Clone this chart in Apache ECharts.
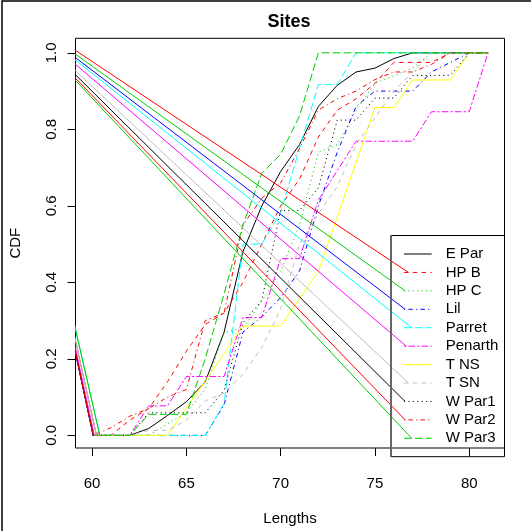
<!DOCTYPE html>
<html><head><meta charset="utf-8">
<script src="https://cdn.jsdelivr.net/npm/echarts@6/dist/echarts.min.js"></script>
<style>html,body{margin:0;padding:0;background:#fff}#c{width:531px;height:531px}</style>
</head><body><div id="c"></div>
<script>
// ---- data ----
const lengths = [60,61,62,63,64,65,66,67,68,69,70,71,72,73,74,75,76,77,78,79,80,81];
const seriesNames = ['E Par','HP B','HP C','Lil','Parret','Penarth','T NS','T SN','W Par1','W Par2','W Par3'];
const ePar    = [0,0,0,0.018,0.052,0.088,0.14,0.27,0.48,0.6,0.69,0.76,0.86,0.915,0.95,0.96,0.985,1,1,1,1,1];
const hpB     = [0,0,0.04,0.07,0.14,0.22,0.29,0.32,0.4,0.5,0.6,0.67,0.78,0.85,0.88,0.92,0.975,0.975,0.975,1,1,1];
const hpC     = [0,0,0,0,0.03,0.06,0.12,0.27,0.28,0.35,0.43,0.55,0.74,0.76,0.85,0.92,0.94,0.96,1,1,1,1];
const lil     = [0,0,0,0,0,0,0,0.08,0.27,0.31,0.36,0.43,0.6,0.74,0.86,0.9,0.9,0.9,0.95,0.975,1,1];
const parret  = [0,0,0,0,0,0,0,0.083,0.5,0.5,0.583,0.75,0.917,0.917,1,1,1,1,1,1,1,1];
const penarth = [0,0,0,0.077,0.077,0.154,0.154,0.154,0.308,0.308,0.462,0.462,0.615,0.692,0.769,0.769,0.769,0.769,0.846,0.846,0.846,1];
const tNS     = [0,0,0,0,0,0.071,0.143,0.214,0.286,0.286,0.286,0.357,0.429,0.571,0.714,0.857,0.857,0.929,0.929,0.929,1,1];
const tSN     = [0,0,0,0.013,0.013,0.04,0.09,0.11,0.16,0.23,0.33,0.5,0.58,0.65,0.76,0.83,0.9,0.95,1,1,1,1];
const wPar1   = [0,0,0,0.059,0.059,0.059,0.059,0.118,0.294,0.353,0.588,0.588,0.647,0.824,0.824,0.882,0.882,0.941,0.941,0.941,1,1];
const wPar2   = [0,0.02,0.05,0.07,0.1,0.12,0.3,0.32,0.55,0.62,0.66,0.75,0.85,0.88,0.9,0.93,0.95,0.95,0.97,1,1,1];
const wPar3   = [0,0,0,0.055,0.055,0.055,0.2,0.37,0.55,0.685,0.735,0.835,1,1,1,1,1,1,1,1,1,1];
const xTicks = [60,65,70,75,80];
const yTicks = [0,0.2,0.4,0.6,0.8,1.0];

// ---- styles ----
const allValues = [ePar,hpB,hpC,lil,parret,penarth,tNS,tSN,wPar1,wPar2,wPar3];
const colors = ['#000000','#FF0000','#00CD00','#0000FF','#00FFFF','#FF00FF','#FFFF00','#BEBEBE','#000000','#FF0000','#00CD00'];
const ltyDash = {
  solid: null,
  dashed: [4.4,4.4],
  dotted: [1.1,3.3],
  dotdash: [1.1,3.3,4.4,3.3],
  longdash: [7.7,3.3],
  twodash: [2.2,2.2,6.6,2.2]
};
const ltys = ['solid','dashed','dotted','dotdash','longdash','twodash','solid','dashed','dotted','dotdash','longdash'];
const FONT = '"Liberation Sans", Arial, Helvetica, sans-serif';

const G = {left:75.5, top:38.3, width:429, height:418.4};
const LEG = {x:391, y:235.5, w:113.5, h:221.2, lineX1:404, lineX2:431.7, textX:445.7, row0:254, rowStep:18.43};

const chart = echarts.init(document.getElementById('c'), null, {renderer:'canvas'});

const baseSeries = seriesNames.map((name,i)=>({
  name, type:'line', symbol:'none', showSymbol:false, clip:true, animation:false,
  data: lengths.map((x,k)=>[x, allValues[i][k]]),
  lineStyle:{color:colors[i], width:1, type: ltyDash[ltys[i]] || 'solid', cap:'butt'},
  z: 2
}));

const legendGraphics = [];
legendGraphics.push({type:'rect', shape:{x:LEG.x, y:LEG.y, width:LEG.w, height:LEG.h}, style:{fill:null, stroke:'#000', lineWidth:1}, z:50});
legendGraphics.push({type:'line', shape:{x1:LEG.x, y1:LEG.y, x2:LEG.x, y2:LEG.y+LEG.h}, style:{stroke:'#666', lineWidth:2}, z:51});
seriesNames.forEach((name,i)=>{
  const y = LEG.row0 + i*LEG.rowStep;
  legendGraphics.push({type:'line', shape:{x1:LEG.lineX1, y1:y, x2:LEG.lineX2, y2:y},
    style:{stroke:colors[i], lineWidth:1, lineDash: ltyDash[ltys[i]] || null}, z:52});
  legendGraphics.push({type:'text', x:LEG.textX, y:y, style:{text:name, font:'15px '+FONT, fill:'#000', textAlign:'left', textVerticalAlign:'middle'}, z:52});
});

const option = {
  animation:false,
  backgroundColor:'#fff',
  grid:{left:G.left, top:G.top, width:G.width, height:G.height, show:true, borderColor:'#000', borderWidth:1, backgroundColor:'transparent', containLabel:false},
  xAxis:{type:'value', min:59.12, max:81.87,
    axisLine:{show:false, onZero:false},
    axisTick:{show:true, customValues:xTicks, length:8, lineStyle:{color:'#000', width:1}},
    axisLabel:{customValues:xTicks, fontSize:15, color:'#000', fontFamily:FONT, margin:28, formatter:v=>String(v)},
    splitLine:{show:false},
    name:'Lengths', nameLocation:'middle', nameGap:63, nameTextStyle:{fontSize:15, color:'#000', fontFamily:FONT}
  },
  yAxis:{type:'value', min:-0.033, max:1.038,
    axisLine:{show:false, onZero:false},
    axisTick:{show:true, customValues:yTicks, length:8, lineStyle:{color:'#000', width:1}},
    axisLabel:{customValues:yTicks, fontSize:15, color:'#000', fontFamily:FONT, rotate:90, margin:16, formatter:v=>v.toFixed(1)},
    splitLine:{show:false},
    name:'CDF', nameLocation:'middle', nameGap:52, nameTextStyle:{fontSize:15, color:'#000', fontFamily:FONT}
  },
  graphic:[
    {type:'rect', shape:{x:2, y:1, width:700, height:700}, style:{fill:null, stroke:'#000', lineWidth:1.5}, z:100, silent:true},
    {type:'text', x:289, y:22, style:{text:'Sites', font:'bold 18px '+FONT, fill:'#000', textAlign:'center', textVerticalAlign:'middle'}, z:100}
  ].concat(legendGraphics),
  series: baseSeries
};
chart.setOption(option);

// Device artefact: each non-solid path in the reference is joined by a solid line from the device origin (0,0)
// to the end of its first dash. Build those through the chart's own coordinate conversion.
const origin = chart.convertFromPixel({gridIndex:0}, [0,0]);
const extra = [];
seriesNames.forEach((name,i)=>{
  const dash = ltyDash[ltys[i]];
  if (!dash) return;
  const p0 = chart.convertToPixel({gridIndex:0}, [lengths[0], allValues[i][0]]);
  const sEnd = chart.convertFromPixel({gridIndex:0}, [p0[0]+dash[0], p0[1]]);
  const y = LEG.row0 + i*LEG.rowStep;
  const lEnd = chart.convertFromPixel({gridIndex:0}, [LEG.lineX1+dash[0], y]);
  extra.push({type:'line', symbol:'none', clip:true, animation:false, silent:true,
    data:[origin, sEnd], lineStyle:{color:colors[i], width:1, type:'solid'}, z:2});
  extra.push({type:'line', symbol:'none', clip:true, animation:false, silent:true,
    data:[origin, lEnd], lineStyle:{color:colors[i], width:1, type:'solid'}, z:3});
});
chart.setOption({series: baseSeries.concat(extra)});
</script></body></html>
